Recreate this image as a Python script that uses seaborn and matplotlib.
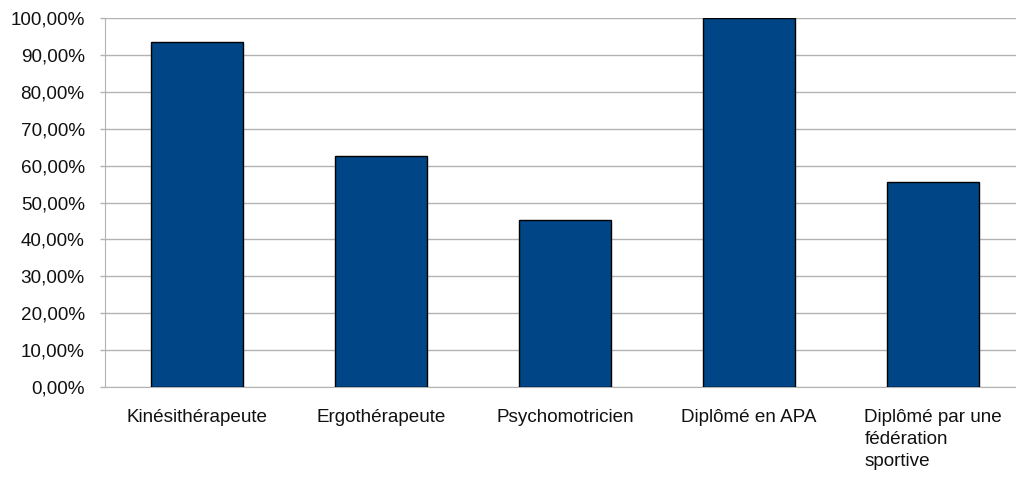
import matplotlib
matplotlib.use("Agg")
import matplotlib.pyplot as plt
import seaborn as sns
import pandas as pd
from matplotlib.ticker import FuncFormatter, FixedLocator

categories = ["Kinésithérapeute", "Ergothérapeute", "Psychomotricien",
              "Diplômé en APA", "Diplômé par une\nfédération\nsportive"]
values = [93.5, 62.5, 45.2, 100.0, 55.6]

df = pd.DataFrame({"categorie": categories, "pourcentage": values})

sns.set_style("white")
plt.rcParams['font.family'] = ['Liberation Sans', 'DejaVu Sans']

fig = plt.figure(figsize=(10.16, 4.79), dpi=100)
ax = fig.add_axes([105 / 1016, 1 - 387 / 479, 1 - 105 / 1016, (387 - 18) / 479])

sns.barplot(data=df, x="categorie", y="pourcentage", color="#004586",
            saturation=1, width=0.5, edgecolor="black", linewidth=1,
            ax=ax, zorder=3)

ax.set_ylim(0, 100)
ax.set_xlim(-0.5, 4.45)
ax.set_yticks(range(0, 101, 10))
ax.yaxis.set_major_formatter(FuncFormatter(lambda v, p: f"{v:.2f}".replace(".", ",") + "%"))
ax.yaxis.grid(True, color="#b3b3b3", linewidth=1, zorder=0)
ax.set_axisbelow(True)

# category boundaries as ticks, labels at centers
ax.xaxis.set_major_locator(FixedLocator([i - 0.5 for i in range(6)]))
ax.xaxis.set_major_formatter(FuncFormatter(lambda v, p: ""))
ax.xaxis.set_minor_locator(FixedLocator(range(5)))
ax.set_xticklabels(categories, minor=True)
for lbl in ax.get_xticklabels(minor=True):
    lbl.set_multialignment("left")
    lbl.set_linespacing(1.42)
ax.tick_params(axis="x", which="major", length=5, color="#b3b3b3", width=1, direction="out")
ax.tick_params(axis="x", which="minor", length=0, pad=15.5, labelsize=13.6, labelcolor="#111111")
ax.tick_params(axis="y", length=3.6, color="#b3b3b3", width=1, direction="out",
               labelsize=13.6, labelcolor="#111111", pad=11, left=True)

ax.set_xlabel("")
ax.set_ylabel("")
sns.despine(ax=ax, top=True, right=True)
ax.spines["left"].set_color("#b3b3b3")
ax.spines["bottom"].set_color("#b3b3b3")

fig.savefig("out.png", dpi=100)
